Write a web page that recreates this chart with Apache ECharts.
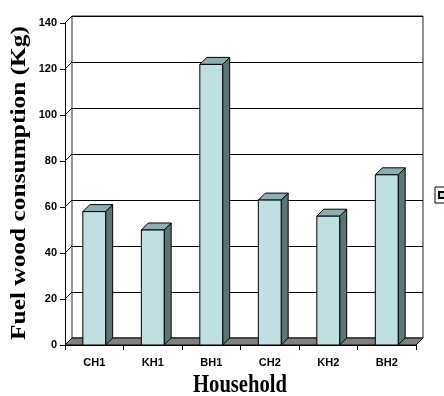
<!DOCTYPE html>
<html>
<head>
<meta charset="utf-8">
<style>
  html, body { margin: 0; padding: 0; background: #fff; }
  #chart { width: 444px; height: 396px; }
</style>
<script src="https://cdn.jsdelivr.net/npm/echarts@6/dist/echarts.min.js"></script>
</head>
<body>
<div id="chart"></div>
<script>
// Household fuel wood consumption
const households = ['CH1', 'KH1', 'BH1', 'CH2', 'KH2', 'BH2'];
const consumptionKg = [58, 50, 122, 63, 56, 74];
const yTicks = [0, 20, 40, 60, 80, 100, 120, 140];
const seriesName = 'Series1';

// pseudo-3D depth offset of the box
const DX = 7, DY = 7;
const FRONT = '#BEE0E3', TOP = '#8FAEB1', SIDE = '#5E7474', FLOOR = '#808080';

const chart = echarts.init(document.getElementById('chart'), null, { renderer: 'canvas' });

function renderBar(params, api) {
  const i = api.value(0), v = api.value(1);
  const top = api.coord([i, v]);
  const base = api.coord([i, 0]);
  const w = api.size([1, 0])[0] * 0.39;
  const x0 = top[0] - w / 2, x1 = top[0] + w / 2;
  const yt = top[1], yb = base[1];
  const edge = { stroke: '#000', lineWidth: 1 };
  return {
    type: 'group',
    children: [
      { type: 'polygon', shape: { points: [[x1, yt], [x1 + DX, yt - DY], [x1 + DX, yb - DY], [x1, yb]] },
        style: Object.assign({ fill: SIDE }, edge) },
      { type: 'polygon', shape: { points: [[x0, yt], [x1, yt], [x1 + DX, yt - DY], [x0 + DX, yt - DY]] },
        style: Object.assign({ fill: TOP }, edge) },
      { type: 'rect', shape: { x: x0, y: yt, width: w, height: yb - yt },
        style: Object.assign({ fill: FRONT }, edge) }
    ]
  };
}

function renderFloor(params, api) {
  const cs = params.coordSys;
  const yb = api.coord([0, 0])[1];
  const xl = cs.x, xr = cs.x + cs.width;
  return {
    type: 'polygon',
    shape: { points: [[xl, yb], [xr, yb], [xr + DX, yb - DY], [xl + DX, yb - DY]] },
    style: { fill: FLOOR, stroke: '#000', lineWidth: 1 }
  };
}

function renderConnector(params, api) {
  const cs = params.coordSys;
  const y = api.coord([0, api.value(1)])[1];
  return {
    type: 'line',
    shape: { x1: cs.x, y1: y, x2: cs.x + DX, y2: y - DY },
    style: { stroke: '#000', lineWidth: 1 }
  };
}

const labelStyle = { color: '#000', fontWeight: 'bold', fontSize: 11, fontFamily: '"Liberation Sans", Arial, sans-serif' };

chart.setOption({
  animation: false,
  backgroundColor: '#fff',
  grid: [
    { left: 65, right: 28, top: 23, bottom: 51 },
    { left: 72, right: 21, top: 16, bottom: 58, show: true, borderColor: '#222', borderWidth: 1, backgroundColor: '#fff' }
  ],
  xAxis: [
    { gridIndex: 0, type: 'category', data: households, boundaryGap: true, z: 5,
      axisLine: { lineStyle: { color: '#000', width: 1 } },
      axisTick: { show: true, alignWithLabel: false, length: 5, lineStyle: { color: '#000' } },
      axisLabel: Object.assign({ margin: 12, interval: 0 }, labelStyle) },
    { gridIndex: 1, type: 'category', data: households, show: false }
  ],
  yAxis: [
    { gridIndex: 0, type: 'value', min: 0, max: 140, interval: 20, z: 5,
      axisLine: { show: true, lineStyle: { color: '#000', width: 1 } },
      axisTick: { show: true, length: 5, lineStyle: { color: '#000' } },
      axisLabel: Object.assign({ margin: 8 }, labelStyle),
      splitLine: { show: false } },
    { gridIndex: 1, type: 'value', min: 0, max: 140, interval: 20,
      axisLine: { show: false }, axisTick: { show: false }, axisLabel: { show: false },
      splitLine: { show: true, lineStyle: { color: '#000', width: 1 } } }
  ],
  legend: {
    data: [seriesName],
    left: 435, top: 187, orient: 'vertical',
    icon: 'rect', itemWidth: 6, itemHeight: 6, itemGap: 2,
    padding: [3, 4, 3, 3],
    borderColor: '#000', borderWidth: 1,
    textStyle: { fontSize: 10, color: '#000', fontFamily: '"Liberation Sans", Arial, sans-serif' }
  },
  series: [
    { type: 'custom', name: 'floor', xAxisIndex: 0, yAxisIndex: 0, z: 1, clip: false,
      renderItem: renderFloor, data: [[0, 0]], silent: true },
    { type: 'custom', name: 'connectors', xAxisIndex: 0, yAxisIndex: 0, z: 1, clip: false,
      renderItem: renderConnector, data: yTicks.slice(1).map(v => [0, v]), silent: true },
    { type: 'custom', name: seriesName, xAxisIndex: 0, yAxisIndex: 0, z: 3, clip: false,
      itemStyle: { color: FRONT, borderColor: '#000', borderWidth: 1 },
      renderItem: renderBar,
      data: households.map((h, i) => [i, consumptionKg[i]]) }
  ],
  graphic: [
    { type: 'text', x: 20, y: 183, rotation: Math.PI / 2, scaleX: 1.27, scaleY: 1,
      style: { text: 'Fuel wood consumption (Kg)', fill: '#000',
        font: 'bold 20px "Liberation Serif", "Times New Roman", serif',
        textAlign: 'center', textVerticalAlign: 'middle', align: 'center', verticalAlign: 'middle' } },
    { type: 'text', x: 240, y: 386, scaleX: 1.03, scaleY: 1.25,
      style: { text: 'Household', fill: '#000',
        font: 'bold 20px "Liberation Serif", "Times New Roman", serif',
        textAlign: 'center', textVerticalAlign: 'middle', align: 'center', verticalAlign: 'middle' } }
  ]
});
</script>
</body>
</html>
